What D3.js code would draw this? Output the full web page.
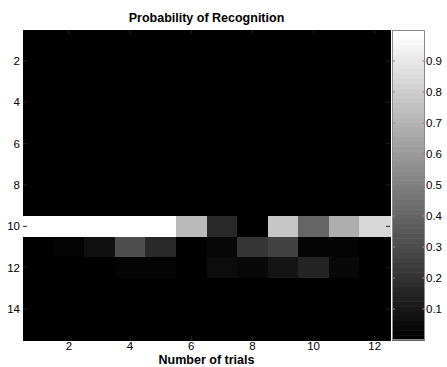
<!DOCTYPE html>
<html>
<head>
<meta charset="utf-8">
<script src="https://cdn.jsdelivr.net/npm/d3@7"></script>
<style>
  html, body { margin: 0; padding: 0; background: #fff; }
  svg { display: block; font-family: "Liberation Sans", Arial, sans-serif; }
</style>
</head>
<body>
<svg id="chart" width="447" height="367"></svg>
<script>
// Trials (columns) and subjects (rows) of the recognition matrix
const trials = [1, 2, 3, 4, 5, 6, 7, 8, 9, 10, 11, 12];
const subjects = [1, 2, 3, 4, 5, 6, 7, 8, 9, 10, 11, 12, 13, 14, 15];

// Probability of recognition for each row; rows not listed are all zero
const row10 = [1.00, 1.00, 1.00, 1.00, 1.00, 0.72, 0.17, 0.00, 0.78, 0.40, 0.68, 0.83];
const row11 = [0.00, 0.02, 0.07, 0.31, 0.16, 0.00, 0.04, 0.21, 0.25, 0.02, 0.03, 0.00];
const row12 = [0.00, 0.00, 0.00, 0.02, 0.02, 0.00, 0.05, 0.04, 0.08, 0.15, 0.04, 0.00];
const zeroRow = [0, 0, 0, 0, 0, 0, 0, 0, 0, 0, 0, 0];

const xTicks = [2, 4, 6, 8, 10, 12];
const yTicks = [2, 4, 6, 8, 10, 12, 14];
const cbTicks = [0.1, 0.2, 0.3, 0.4, 0.5, 0.6, 0.7, 0.8, 0.9];

const rows = subjects.map(s => s === 10 ? row10 : s === 11 ? row11 : s === 12 ? row12 : zeroRow);
const cells = [];
rows.forEach((r, i) => r.forEach((v, j) => cells.push({ row: subjects[i], col: trials[j], value: v })));

const svg = d3.select("#chart");
const plot = { left: 23, right: 390, top: 30, bottom: 340 };

const x = d3.scaleBand().domain(trials).range([plot.left, plot.right]);
const y = d3.scaleBand().domain(subjects).range([plot.top, plot.bottom]);

// 64-level gray colormap over the data range
const allVals = cells.map(d => d.value);
const cmin = d3.min(allVals), cmax = d3.max(allVals);
const nLevels = 64;
const gray = v => {
  let k = Math.floor((v - cmin) / (cmax - cmin) * nLevels);
  k = Math.max(0, Math.min(nLevels - 1, k));
  const g = Math.round(k / (nLevels - 1) * 255);
  return `rgb(${g},${g},${g})`;
};

// heatmap cells
svg.append("g").selectAll("rect").data(cells).join("rect")
  .attr("x", d => x(d.col))
  .attr("y", d => y(d.row))
  .attr("width", x.bandwidth() + 0.5)
  .attr("height", y.bandwidth() + 0.5)
  .attr("fill", d => gray(d.value))
  .attr("shape-rendering", "crispEdges");

// axis tick marks drawn inward, labels outside
const tickLen = 4;
const ticks = svg.append("g").attr("stroke", "#222").attr("stroke-width", 1);
xTicks.forEach(t => {
  const cx = x(t) + x.bandwidth() / 2;
  ticks.append("line").attr("x1", cx).attr("x2", cx).attr("y1", plot.bottom).attr("y2", plot.bottom - tickLen);
  ticks.append("line").attr("x1", cx).attr("x2", cx).attr("y1", plot.top).attr("y2", plot.top + tickLen);
});
yTicks.forEach(t => {
  const cy = y(t) + y.bandwidth() / 2;
  ticks.append("line").attr("x1", plot.left).attr("x2", plot.left + tickLen).attr("y1", cy).attr("y2", cy);
  ticks.append("line").attr("x1", plot.right).attr("x2", plot.right - tickLen).attr("y1", cy).attr("y2", cy);
});

svg.append("g").selectAll("text").data(xTicks).join("text")
  .attr("x", d => x(d) + x.bandwidth() / 2)
  .attr("y", 350)
  .attr("text-anchor", "middle")
  .attr("font-size", 11.5)
  .text(d => d);

svg.append("g").selectAll("text").data(yTicks).join("text")
  .attr("x", 20)
  .attr("y", d => y(d) + y.bandwidth() / 2 + 4)
  .attr("text-anchor", "end")
  .attr("font-size", 11.5)
  .text(d => d);

// title and axis label
svg.append("text")
  .attr("x", (plot.left + plot.right) / 2)
  .attr("y", 22)
  .attr("text-anchor", "middle")
  .attr("font-size", 12.5)
  .attr("font-weight", "bold")
  .text("Probability of Recognition");

svg.append("text")
  .attr("x", (plot.left + plot.right) / 2)
  .attr("y", 364)
  .attr("text-anchor", "middle")
  .attr("font-size", 12.5)
  .attr("font-weight", "bold")
  .text("Number of trials");

// colorbar
const cb = { left: 392, right: 425, top: 30, bottom: 340 };
const cy = d3.scaleLinear().domain([cmin, cmax]).range([cb.bottom, cb.top]);
const levels = d3.range(nLevels);
svg.append("g").selectAll("rect").data(levels).join("rect")
  .attr("x", cb.left)
  .attr("width", cb.right - cb.left)
  .attr("y", k => cy(cmin + (k + 1) / nLevels * (cmax - cmin)))
  .attr("height", (cb.bottom - cb.top) / nLevels + 0.6)
  .attr("fill", k => { const g = Math.round(k / (nLevels - 1) * 255); return `rgb(${g},${g},${g})`; });

svg.append("rect")
  .attr("x", cb.left + 0.5).attr("y", cb.top + 0.5)
  .attr("width", cb.right - cb.left - 1).attr("height", cb.bottom - cb.top - 1)
  .attr("fill", "none").attr("stroke", "#8a8a8a");

const cbAxis = svg.append("g").attr("stroke", "#8a8a8a");
cbTicks.forEach(t => {
  const ty = cy(t);
  cbAxis.append("line").attr("x1", cb.left).attr("x2", cb.left + 3).attr("y1", ty).attr("y2", ty);
  cbAxis.append("line").attr("x1", cb.right).attr("x2", cb.right - 3).attr("y1", ty).attr("y2", ty);
});

svg.append("g").selectAll("text").data(cbTicks).join("text")
  .attr("x", 426)
  .attr("y", d => cy(d) + 4)
  .attr("font-size", 11.5)
  .text(d => d3.format(".1f")(d));
</script>
</body>
</html>
